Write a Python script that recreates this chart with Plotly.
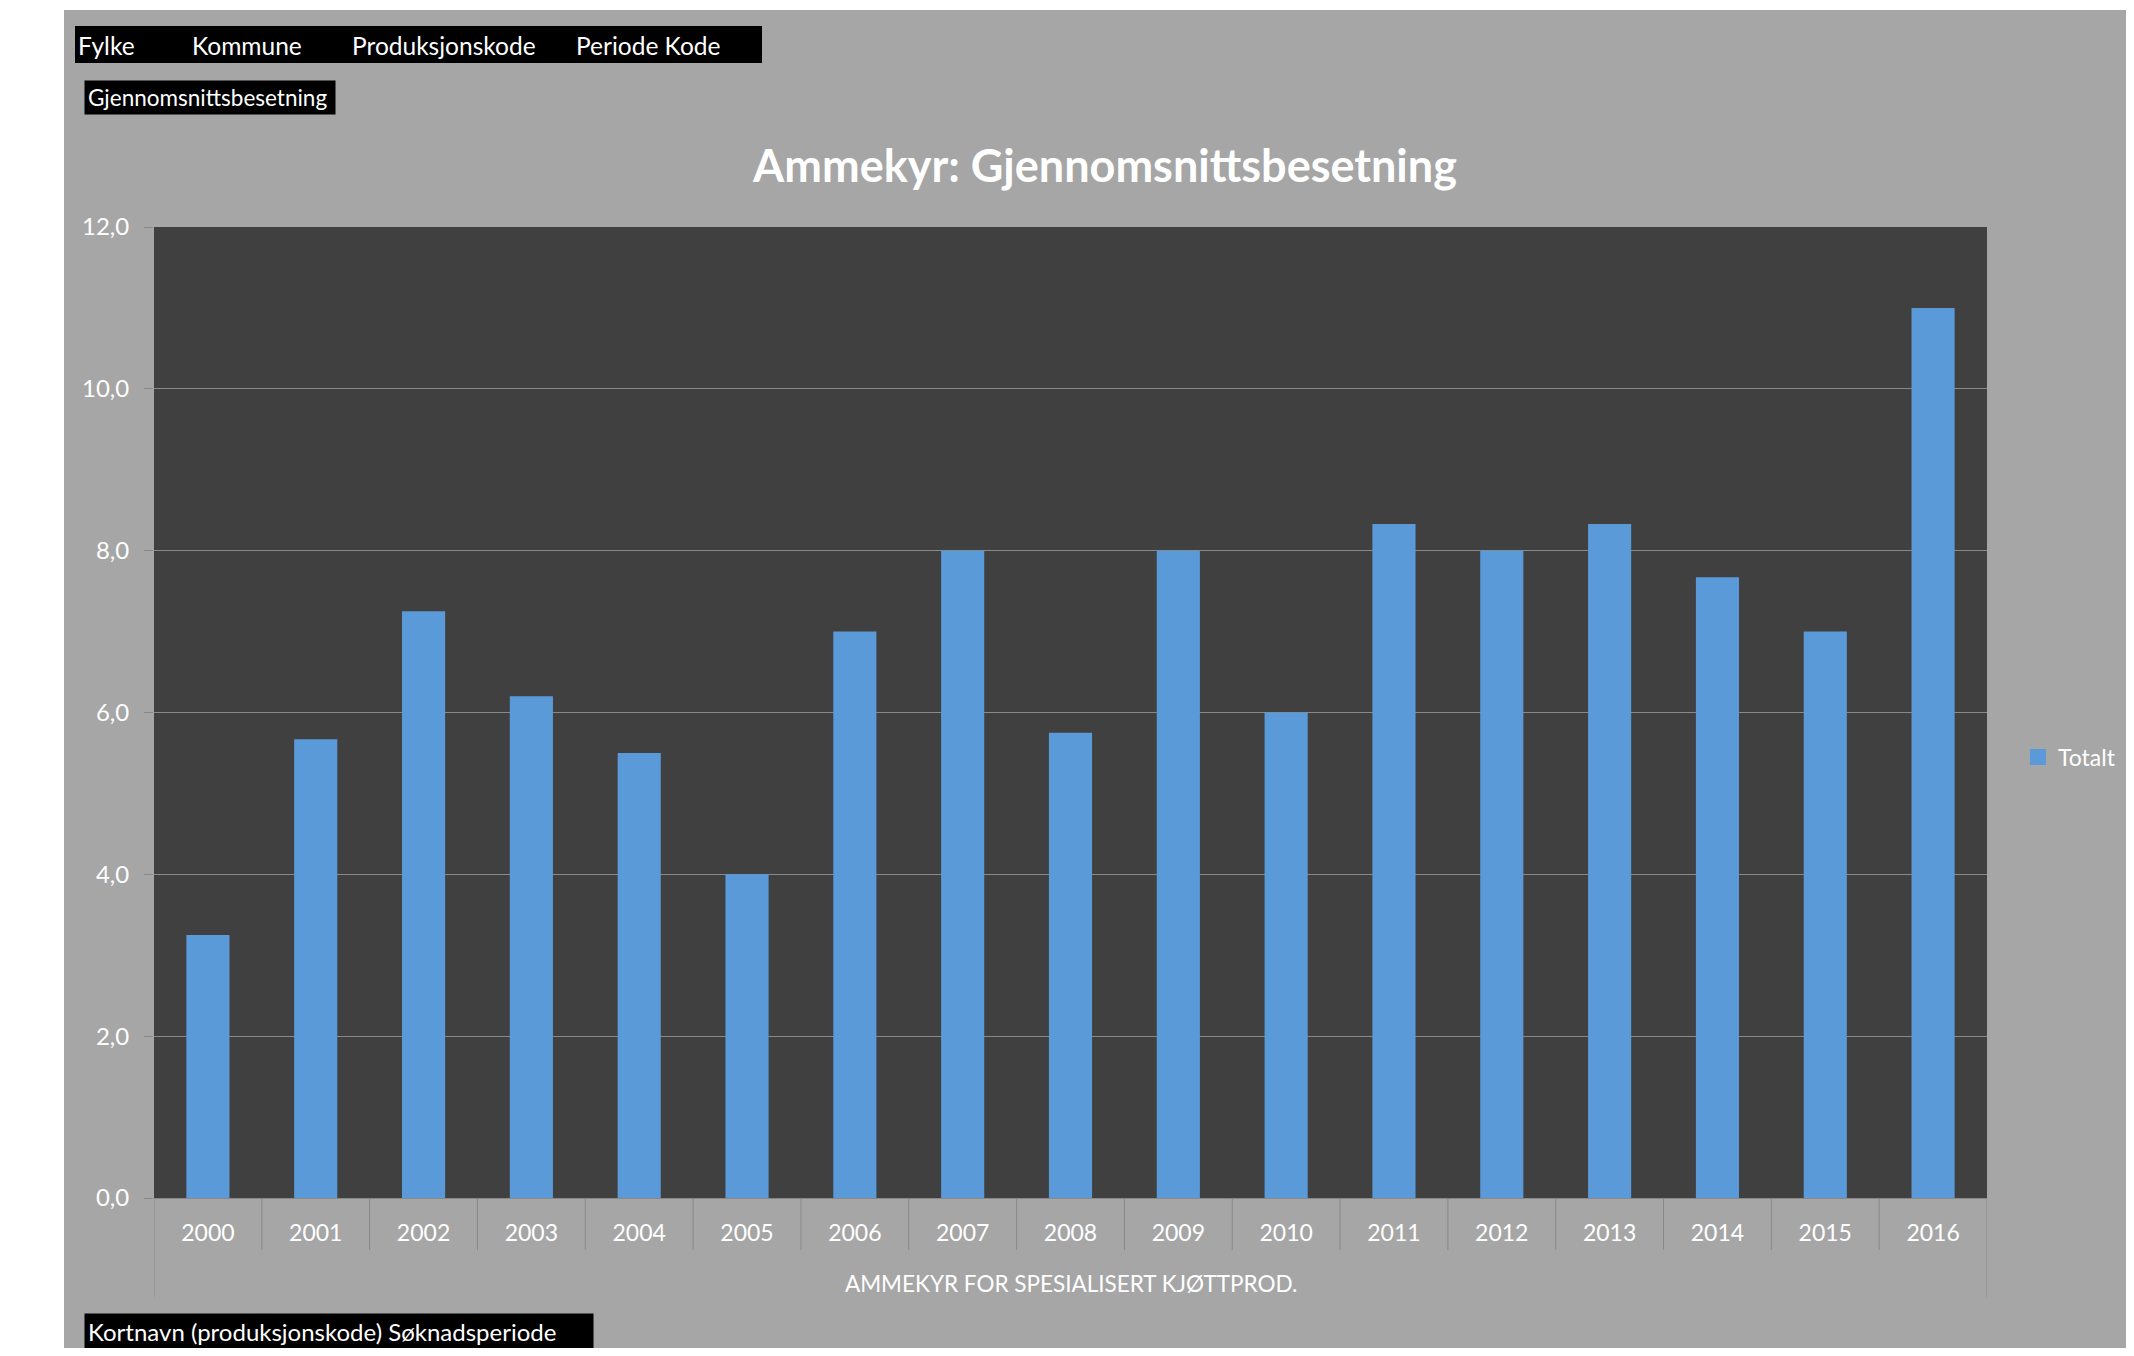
import plotly.graph_objects as go

years = ['2000', '2001', '2002', '2003', '2004', '2005', '2006', '2007', '2008',
         '2009', '2010', '2011', '2012', '2013', '2014', '2015', '2016']
totalt = [3.25, 5.67, 7.25, 6.2, 5.5, 4.0, 7.0, 8.0, 5.75,
          8.0, 6.0, 8.33, 8.0, 8.33, 7.67, 7.0, 11.0]
y_ticks = [0, 2, 4, 6, 8, 10, 12]
filter_fields = ['Fylke', 'Kommune', 'Produksjonskode', 'Periode Kode']
group_label = 'AMMEKYR FOR SPESIALISERT KJØTTPROD.'
title_text = 'Ammekyr: Gjennomsnittsbesetning'

# the page body has an 8px margin on every side, keep the figure inside the window
OFF = 8
W, H = 2134 - 2 * OFF, 1356 - 2 * OFF
L, R, T, B = 154, 1987, 227, 1198  # plot area in page pixels


def px(x):
    return (x - L) / (R - L)


def py(y):
    return (B - y) / (B - T)


FONT = 'Lato'
GRID = '#898989'
BLUE = '#5a9ad8'

fig = go.Figure()
fig.add_trace(go.Bar(x=years, y=totalt, name='Totalt', showlegend=False,
                     marker=dict(color=BLUE, line=dict(width=0))))
# legend entry with a larger square
fig.add_trace(go.Scatter(x=[None], y=[None], mode='markers', name='Totalt',
                         marker=dict(symbol='square', size=16, color=BLUE)))

shapes = [
    # grey chart area
    dict(type='rect', xref='paper', yref='paper', x0=px(64), x1=px(2140),
         y0=py(1360), y1=py(10), fillcolor='#a6a6a6', line=dict(width=0), layer='below'),
    # dark plot area
    dict(type='rect', xref='paper', yref='paper', x0=0, x1=1, y0=0, y1=1,
         fillcolor='#404040', line=dict(width=0), layer='below'),
    # filter box
    dict(type='rect', xref='paper', yref='paper', x0=px(75), x1=px(762),
         y0=py(63), y1=py(26), fillcolor='black', line=dict(width=0)),
]
# category separators under the axis
for i in range(len(years) + 1):
    end = i == 0 or i == len(years)
    shapes.append(dict(type='line', xref='x', yref='paper', x0=i - 0.5, x1=i - 0.5,
                       y0=0, y1=py(1297) if end else py(1250),
                       line=dict(color=GRID, width=1)))

annotations = []
for name, xpos in zip(filter_fields, [76, 190, 350, 574]):
    annotations.append(dict(text=name, xref='paper', yref='paper', x=px(xpos), y=py(45),
                            xanchor='left', yanchor='middle', showarrow=False,
                            font=dict(family=FONT, size=24.5, color='white')))
annotations.append(dict(text='Gjennomsnittsbesetning', xref='paper', yref='paper',
                        x=px(84), y=py(80), xanchor='left', yanchor='top', showarrow=False,
                        bgcolor='black', borderpad=3, width=244, align='left',
                        font=dict(family=FONT, size=22.5, color='white')))
annotations.append(dict(text='Kortnavn (produksjonskode) Søknadsperiode', xref='paper',
                        yref='paper', x=px(84), y=py(1313), xanchor='left', yanchor='top',
                        showarrow=False, bgcolor='black', borderpad=3, width=502, align='left',
                        font=dict(family=FONT, size=24, color='white')))
annotations.append(dict(text=group_label, xref='paper', yref='paper', x=0.5, y=py(1283),
                        xanchor='center', yanchor='middle', showarrow=False,
                        font=dict(family=FONT, size=22.5, color='white')))

fig.update_layout(
    width=W, height=H,
    margin=dict(l=L - OFF, r=W - (R - OFF), t=T - OFF, b=H - (B - OFF), pad=0,
                autoexpand=False),
    paper_bgcolor='white',
    plot_bgcolor='#404040',
    separators=',.',
    font=dict(family=FONT, color='white', size=22),
    title=dict(text='<b>' + title_text + '</b>', x=(1105 - OFF) / W, xanchor='center',
               y=1 - (166 - OFF) / H, yanchor='middle',
               font=dict(family=FONT, size=45, color='white')),
    bargap=0.6,
    showlegend=True,
    legend=dict(x=px(2018), y=py(757), xanchor='left', yanchor='middle',
                bgcolor='rgba(0,0,0,0)', font=dict(family=FONT, size=23, color='white')),
    shapes=shapes,
    annotations=annotations,
)
fig.update_xaxes(type='category', categoryorder='array', categoryarray=years,
                 range=[-0.5, len(years) - 0.5], showgrid=False, ticks='',
                 showline=True, linecolor=GRID, linewidth=1,
                 ticklabelstandoff=14, tickfont=dict(size=23, color='white'))
fig.update_yaxes(range=[0, 12], tickvals=y_ticks, tickformat='.1f',
                 showgrid=True, gridcolor=GRID, gridwidth=1, zeroline=False,
                 ticks='outside', ticklen=9, tickcolor=GRID,
                 ticklabelstandoff=10, tickfont=dict(size=24, color='white'))

fig.write_html('out.html')
